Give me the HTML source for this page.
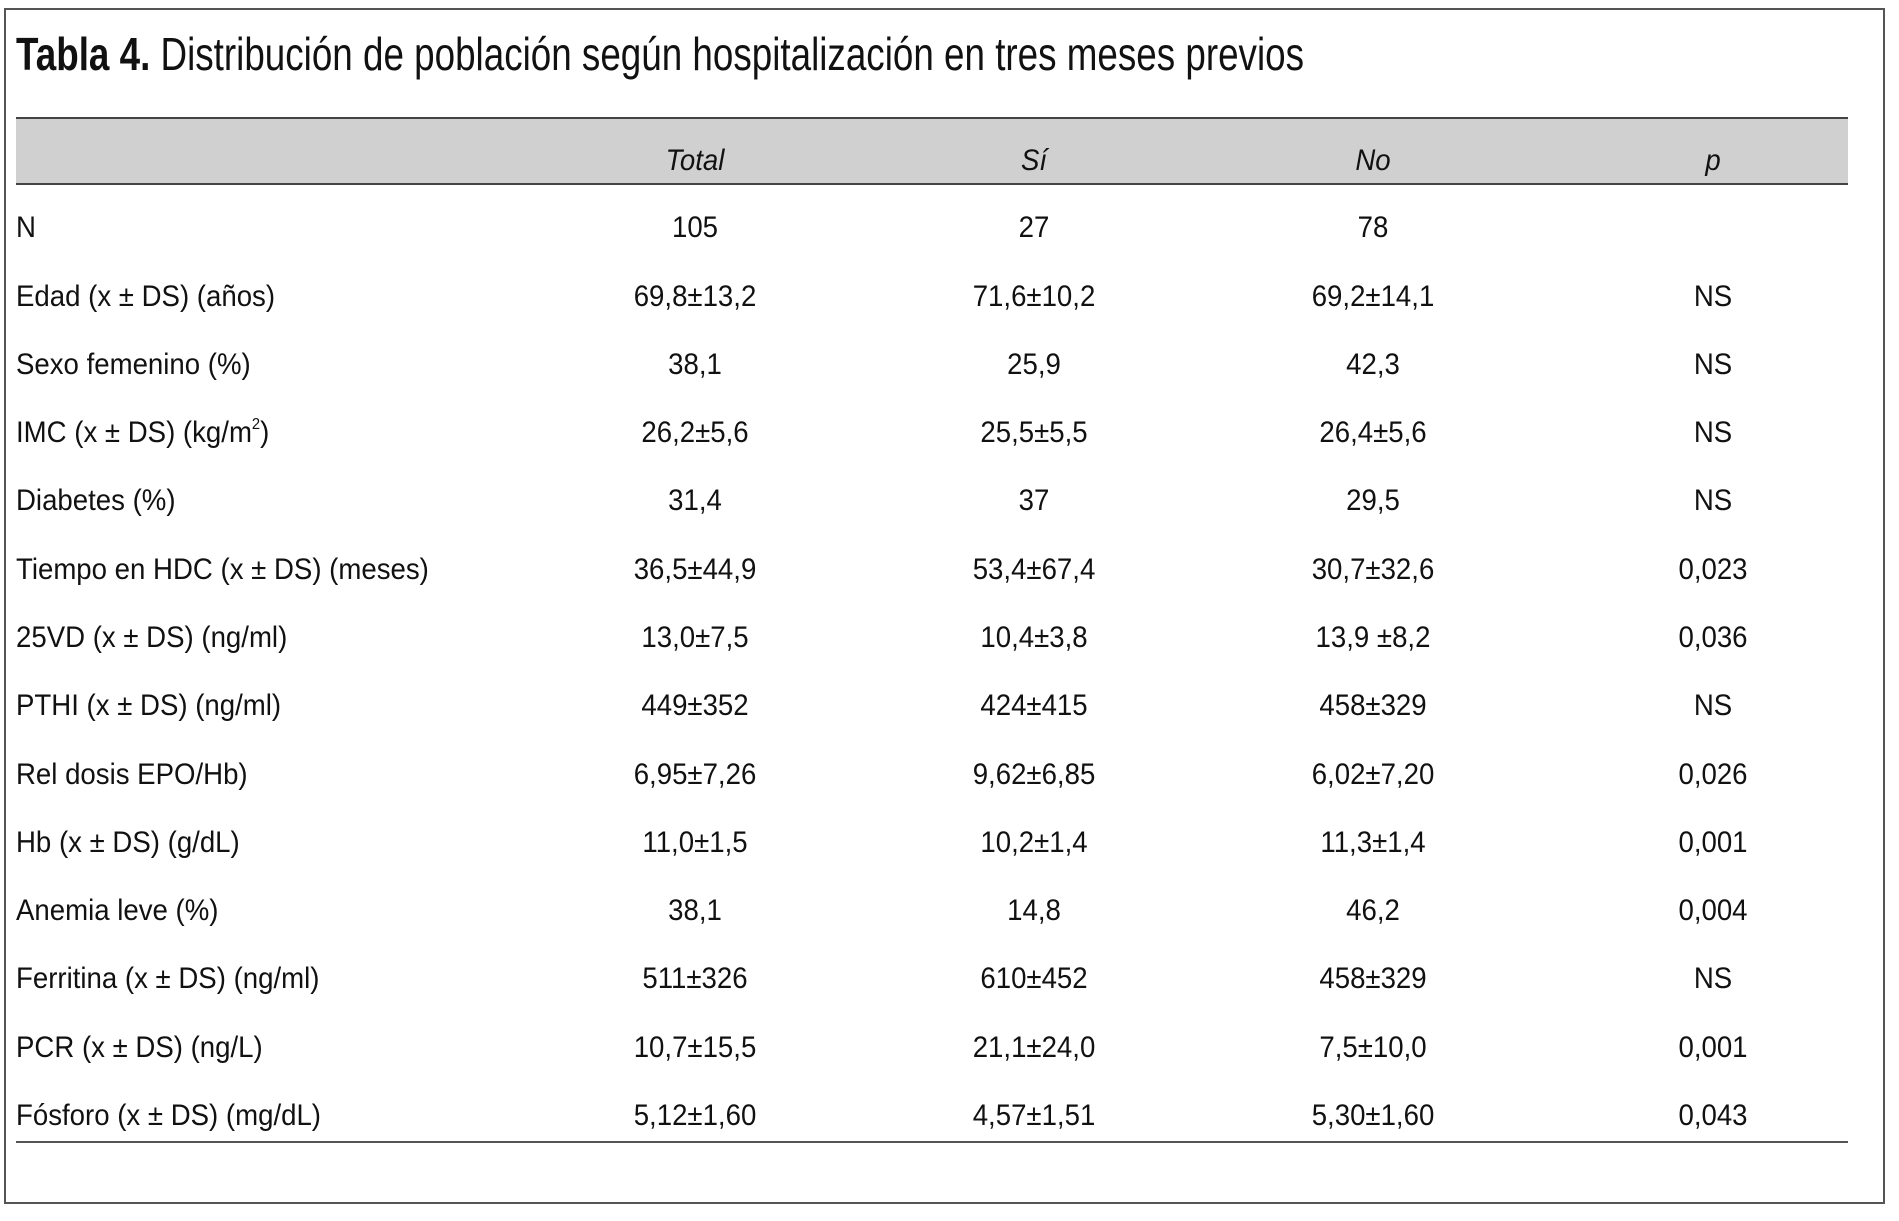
<!DOCTYPE html>
<html><head><meta charset="utf-8"><style>
body{margin:0;width:1899px;height:1221px;background:#fff;position:relative;overflow:hidden;font-family:"Liberation Sans Narrow","Liberation Sans",sans-serif;color:#111}
.frame{position:absolute;left:4px;top:8px;width:1881px;height:1196px;border:2px solid #555;box-sizing:border-box}
.title{position:absolute;left:16px;top:28px;font-size:46px;line-height:52px;white-space:nowrap;transform:scaleX(0.80);transform-origin:left center}
.hdr{position:absolute;left:16px;top:117px;width:1832px;height:68px;background:#d0d0d0;border-top:2px solid #444;border-bottom:2px solid #444;box-sizing:border-box}
.bl{position:absolute;left:16px;top:1141px;width:1832px;height:2px;background:#555}
.t{position:absolute;font-size:30px;line-height:34px;white-space:nowrap;transform:scaleX(0.92);transform-origin:left center}
.c{transform:translateX(-50%) scaleX(0.92);transform-origin:center center}
i{font-style:italic}
sup{font-size:16px;position:relative;top:-13px;vertical-align:baseline}
</style></head><body>
<div class="frame"></div>
<div class="title"><b>Tabla 4.</b> Distribución de población según hospitalización en tres meses previos</div>
<div class="hdr"></div>
<div class="t c" style="left:695px;top:144px"><i>Total</i></div>
<div class="t c" style="left:1034px;top:144px"><i>Sí</i></div>
<div class="t c" style="left:1373px;top:144px"><i>No</i></div>
<div class="t c" style="left:1713px;top:144px"><i>p</i></div>
<div class="bl"></div>
<div class="t" style="left:16px;top:211px">N</div><div class="t c" style="left:695px;top:211px">105</div><div class="t c" style="left:1034px;top:211px">27</div><div class="t c" style="left:1373px;top:211px">78</div>
<div class="t" style="left:16px;top:280px">Edad (x ± DS) (años)</div><div class="t c" style="left:695px;top:280px">69,8±13,2</div><div class="t c" style="left:1034px;top:280px">71,6±10,2</div><div class="t c" style="left:1373px;top:280px">69,2±14,1</div><div class="t c" style="left:1713px;top:280px">NS</div>
<div class="t" style="left:16px;top:348px">Sexo femenino (%)</div><div class="t c" style="left:695px;top:348px">38,1</div><div class="t c" style="left:1034px;top:348px">25,9</div><div class="t c" style="left:1373px;top:348px">42,3</div><div class="t c" style="left:1713px;top:348px">NS</div>
<div class="t" style="left:16px;top:416px">IMC (x ± DS) (kg/m<sup>2</sup>)</div><div class="t c" style="left:695px;top:416px">26,2±5,6</div><div class="t c" style="left:1034px;top:416px">25,5±5,5</div><div class="t c" style="left:1373px;top:416px">26,4±5,6</div><div class="t c" style="left:1713px;top:416px">NS</div>
<div class="t" style="left:16px;top:484px">Diabetes (%)</div><div class="t c" style="left:695px;top:484px">31,4</div><div class="t c" style="left:1034px;top:484px">37</div><div class="t c" style="left:1373px;top:484px">29,5</div><div class="t c" style="left:1713px;top:484px">NS</div>
<div class="t" style="left:16px;top:553px">Tiempo en HDC (x ± DS) (meses)</div><div class="t c" style="left:695px;top:553px">36,5±44,9</div><div class="t c" style="left:1034px;top:553px">53,4±67,4</div><div class="t c" style="left:1373px;top:553px">30,7±32,6</div><div class="t c" style="left:1713px;top:553px">0,023</div>
<div class="t" style="left:16px;top:621px">25VD (x ± DS) (ng/ml)</div><div class="t c" style="left:695px;top:621px">13,0±7,5</div><div class="t c" style="left:1034px;top:621px">10,4±3,8</div><div class="t c" style="left:1373px;top:621px">13,9 ±8,2</div><div class="t c" style="left:1713px;top:621px">0,036</div>
<div class="t" style="left:16px;top:689px">PTHI (x ± DS) (ng/ml)</div><div class="t c" style="left:695px;top:689px">449±352</div><div class="t c" style="left:1034px;top:689px">424±415</div><div class="t c" style="left:1373px;top:689px">458±329</div><div class="t c" style="left:1713px;top:689px">NS</div>
<div class="t" style="left:16px;top:758px">Rel dosis EPO/Hb)</div><div class="t c" style="left:695px;top:758px">6,95±7,26</div><div class="t c" style="left:1034px;top:758px">9,62±6,85</div><div class="t c" style="left:1373px;top:758px">6,02±7,20</div><div class="t c" style="left:1713px;top:758px">0,026</div>
<div class="t" style="left:16px;top:826px">Hb (x ± DS) (g/dL)</div><div class="t c" style="left:695px;top:826px">11,0±1,5</div><div class="t c" style="left:1034px;top:826px">10,2±1,4</div><div class="t c" style="left:1373px;top:826px">11,3±1,4</div><div class="t c" style="left:1713px;top:826px">0,001</div>
<div class="t" style="left:16px;top:894px">Anemia leve (%)</div><div class="t c" style="left:695px;top:894px">38,1</div><div class="t c" style="left:1034px;top:894px">14,8</div><div class="t c" style="left:1373px;top:894px">46,2</div><div class="t c" style="left:1713px;top:894px">0,004</div>
<div class="t" style="left:16px;top:962px">Ferritina (x ± DS) (ng/ml)</div><div class="t c" style="left:695px;top:962px">511±326</div><div class="t c" style="left:1034px;top:962px">610±452</div><div class="t c" style="left:1373px;top:962px">458±329</div><div class="t c" style="left:1713px;top:962px">NS</div>
<div class="t" style="left:16px;top:1031px">PCR (x ± DS) (ng/L)</div><div class="t c" style="left:695px;top:1031px">10,7±15,5</div><div class="t c" style="left:1034px;top:1031px">21,1±24,0</div><div class="t c" style="left:1373px;top:1031px">7,5±10,0</div><div class="t c" style="left:1713px;top:1031px">0,001</div>
<div class="t" style="left:16px;top:1099px">Fósforo (x ± DS) (mg/dL)</div><div class="t c" style="left:695px;top:1099px">5,12±1,60</div><div class="t c" style="left:1034px;top:1099px">4,57±1,51</div><div class="t c" style="left:1373px;top:1099px">5,30±1,60</div><div class="t c" style="left:1713px;top:1099px">0,043</div>
</body></html>
